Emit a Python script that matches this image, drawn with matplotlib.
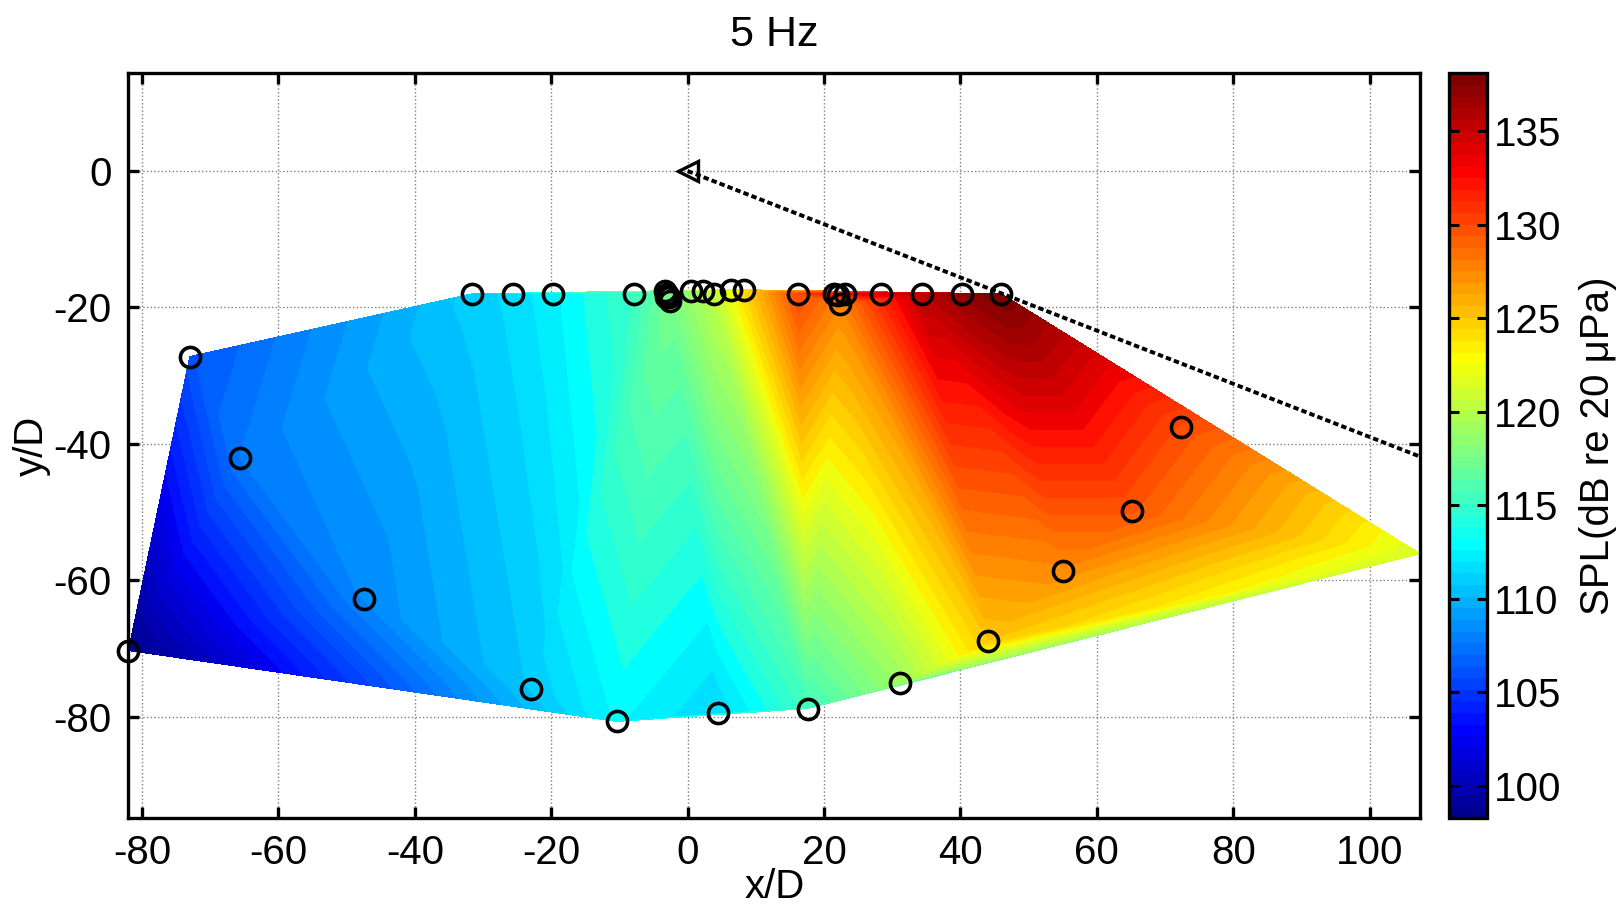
import numpy as np
import matplotlib
matplotlib.use("Agg")
import matplotlib.pyplot as plt
import matplotlib.tri as mtri
from matplotlib.colors import ListedColormap, Normalize
from matplotlib.cm import ScalarMappable

plt.rcParams['font.family'] = ['Liberation Sans', 'DejaVu Sans']
plt.rcParams['axes.unicode_minus'] = False

# ---------------- data ----------------
# microphone positions (x/D, y/D) and measured SPL (dB re 20 uPa) at 5 Hz
mic_x = [-82.0, -73.0, -65.6, -47.5, -22.9, -10.4, 4.5, 17.6, 31.1, 44.1, 55.0, 65.2, 72.3,
         -31.6, -25.6, -19.7, -7.8,
         -3.3, -3.0, -2.8, -2.6, -3.2,
         0.5, 2.2, 3.8, 6.4, 8.3, 16.2,
         21.4, 22.0, 22.3, 23.1, 28.3, 34.4, 40.3, 46.0]
mic_y = [-70.3, -27.2, -42.0, -62.7, -75.9, -80.7, -79.5, -78.8, -75.1, -68.9, -58.6, -49.8, -37.6,
         -18.0, -18.0, -18.0, -18.0,
         -17.6, -18.0, -18.5, -19.0, -18.4,
         -17.6, -17.6, -18.0, -17.4, -17.4, -18.0,
         -18.0, -18.2, -19.5, -18.0, -18.0, -18.0, -18.0, -18.0]
mic_spl = [98.3, 106.0, 107.6, 108.3, 111.0, 113.0, 111.6, 115.2, 119.0, 124.8, 127.3, 129.6, 130.0,
           111.2, 111.8, 112.7, 115.0,
           116.8, 117.0, 117.2, 117.4, 117.0,
           119.0, 119.8, 120.5, 122.0, 123.4, 130.2,
           132.2, 132.0, 127.5, 132.6, 134.2, 135.4, 137.0, 138.1]

# extra field point (no microphone marker drawn)
extra_x = [107.4]
extra_y = [-56.1]
extra_spl = [121.4]

# nozzle exit and jet-axis direction
nozzle_x, nozzle_y = 0.0, 0.0
jet_angle_deg = -21.3

title_text = "5 Hz"
x_ticks = [-80, -60, -40, -20, 0, 20, 40, 60, 80, 100]
y_ticks = [-80, -60, -40, -20, 0]
cbar_ticks = [100, 105, 110, 115, 120, 125, 130, 135]


# ---------------- colormap (MATLAB jet(64)) ----------------
def matlab_jet(m=64):
    n = int(np.ceil(m / 4))
    u = np.concatenate([np.arange(1, n + 1) / n, np.ones(n - 1), np.arange(n, 0, -1) / n])
    g = int(np.ceil(n / 2)) - (1 if m % 4 == 1 else 0) + np.arange(1, len(u) + 1)
    r = g + n
    b = g - n
    J = np.zeros((m, 3))
    J[r[r <= m] - 1, 0] = u[r <= m]
    J[g[g <= m] - 1, 1] = u[g <= m]
    J[b[b >= 1] - 1, 2] = u[b >= 1]
    return ListedColormap(J)


cmap = matlab_jet(64)

px = np.array(mic_x + extra_x)
py = np.array(mic_y + extra_y)
pz = np.array(mic_spl + extra_spl)
vmin, vmax = pz.min(), pz.max()
norm = Normalize(vmin=vmin, vmax=vmax)

FS = 29
fig = plt.figure(figsize=(16.23, 9.06), dpi=100)
ax = fig.add_axes([0.0791, 0.0975, 0.7959, 0.8214])
cax = fig.add_axes([0.8928, 0.0975, 0.0234, 0.8214])

tri = mtri.Triangulation(px, py)
levels = np.linspace(vmin, vmax, 61)
ax.tricontourf(tri, pz, levels=levels, cmap=cmap, norm=norm, zorder=1)

ax.plot(mic_x, mic_y, 'o', mfc='none', mec='k', ms=14.5, mew=2.6, clip_on=False, zorder=4)

# jet axis line
L = 250.0
ang = np.deg2rad(jet_angle_deg)
ax.plot([nozzle_x, nozzle_x + L * np.cos(ang)], [nozzle_y, nozzle_y + L * np.sin(ang)],
        color='k', lw=2.8, linestyle=(0, (1.4, 0.8)), zorder=3)
ax.plot([nozzle_x], [nozzle_y], marker='<', mfc='none', mec='k', ms=15, mew=2.4, zorder=5)

ax.set_xlim(px.min(), px.max())
ax.set_ylim(-94.8, 14.3)
ax.set_xticks(x_ticks)
ax.set_yticks(y_ticks)
ax.grid(True, color='0.5', linestyle=':', lw=1.0)
ax.set_axisbelow(True)
ax.tick_params(direction='in', length=8, width=2.4, labelsize=FS, pad=12,
               top=True, right=True)
for s in ax.spines.values():
    s.set_linewidth(2.4)
ax.set_xlabel('x/D', fontsize=FS, labelpad=-3)
ax.set_ylabel('y/D', fontsize=FS, labelpad=2)
ax.set_title(title_text, fontsize=31, pad=20)

sm = ScalarMappable(norm=norm, cmap=cmap)
cb = fig.colorbar(sm, cax=cax, ticks=cbar_ticks)
cb.outline.set_linewidth(2.4)
cax.tick_params(direction='in', length=7, width=2.2, labelsize=FS, pad=5,
                left=True, right=True)
cb.set_label('SPL(dB re 20 μPa)', fontsize=FS, labelpad=13)

fig.savefig('out.png', dpi=100)
